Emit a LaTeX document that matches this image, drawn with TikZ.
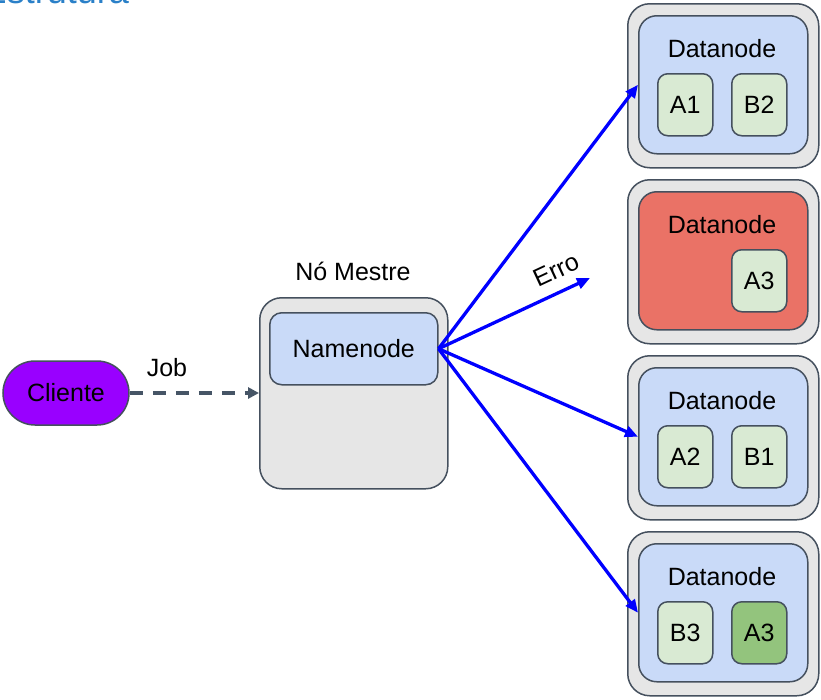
\documentclass[tikz,border=0pt]{standalone}
\usepackage{fontspec}
\setmainfont{Liberation Sans}
\usetikzlibrary{arrows.meta}
\definecolor{bd}{HTML}{45505E}
\definecolor{outergray}{HTML}{E6E6E6}
\definecolor{dnblue}{HTML}{C9DAF8}
\definecolor{blkgreen}{HTML}{D9EAD3}
\definecolor{dkgreen}{HTML}{93C47D}
\definecolor{errred}{HTML}{EA7266}
\definecolor{purp}{HTML}{9900FF}
\definecolor{titleblue}{HTML}{2A80C8}
\definecolor{dashcol}{HTML}{465566}
\begin{document}
\begin{tikzpicture}[x=1pt,y=-1pt,
  every node/.style={font=\fontsize{25}{30}\selectfont, inner sep=0pt},
  box/.style={draw=bd, line width=1.5pt, anchor=north west},
  outerbox/.style={box, fill=outergray, rounded corners=22pt},
  innerbox/.style={box, fill=dnblue, rounded corners=18pt, minimum width=169pt, minimum height=138pt},
  blk/.style={box, fill=blkgreen, rounded corners=10pt, minimum width=55pt, minimum height=62pt},
  bluearrow/.style={draw=blue, line width=3.3pt, -{Triangle[length=13pt,width=11pt]}}
]
\useasboundingbox (0,0) rectangle (821,699);
\fill[white] (0,0) rectangle (821,699);

% clipped title
\node[anchor=base east, text=titleblue, font=\fontsize{36}{40}\selectfont] (title) at (129,3) {Estrutura};

% client
\node[draw=bd, line width=1.5pt, fill=purp, rounded corners=32pt, minimum width=126pt, minimum height=64pt] (cli) at (66,393) {Cliente};

% master
\node[outerbox, minimum width=188pt, minimum height=191pt] (master) at (259,297) {};
\node (mlabel) at (353,271) {Nó Mestre};
\node[box, fill=dnblue, rounded corners=12pt, minimum width=168pt, minimum height=72pt] (nn) at (269,312) {Namenode};

% job arrow
\draw[draw=dashcol, line width=3.5pt, dash pattern=on 13pt off 10pt, -{Triangle[length=11pt,width=11pt]}] (cli.east) -- (master.west |- cli.east);
\node (job) at (167,368) {Job};

% datanode groups
\foreach \i/\t in {1/3,2/179,3/355,4/531}{
  \node[outerbox, minimum width=191pt, minimum height=164pt] (g\i) at (627,\t) {};
}
\node[innerbox] (d1) at (638,15) {};
\node[innerbox, fill=errred] (d2) at (638,191) {};
\node[innerbox] (d3) at (638,367) {};
\node[innerbox] (d4) at (638,543) {};
\node (t1) at (722,49) {Datanode};
\node (t2) at (722,225) {Datanode};
\node (t3) at (722,401) {Datanode};
\node (t4) at (722,577) {Datanode};

\node[blk] (a1) at (657,73) {A1};
\node[blk] (b2) at (731,73) {B2};
\node[blk] (a3x) at (731,249) {A3};
\node[blk] (a2) at (657,425) {A2};
\node[blk] (b1) at (731,425) {B1};
\node[blk] (b3) at (657,601) {B3};
\node[blk, fill=dkgreen] (a3) at (731,601) {A3};

% blue arrows
\coordinate (err) at (590,278);
\draw[bluearrow] (nn.east) -- (d1.west);
\draw[bluearrow] (nn.east) -- (err);
\draw[bluearrow] (nn.east) -- (d3.west);
\draw[bluearrow] (nn.east) -- (d4.west);
\node[rotate=25] (erro) at (556,270) {Erro};
\end{tikzpicture}
\end{document}
